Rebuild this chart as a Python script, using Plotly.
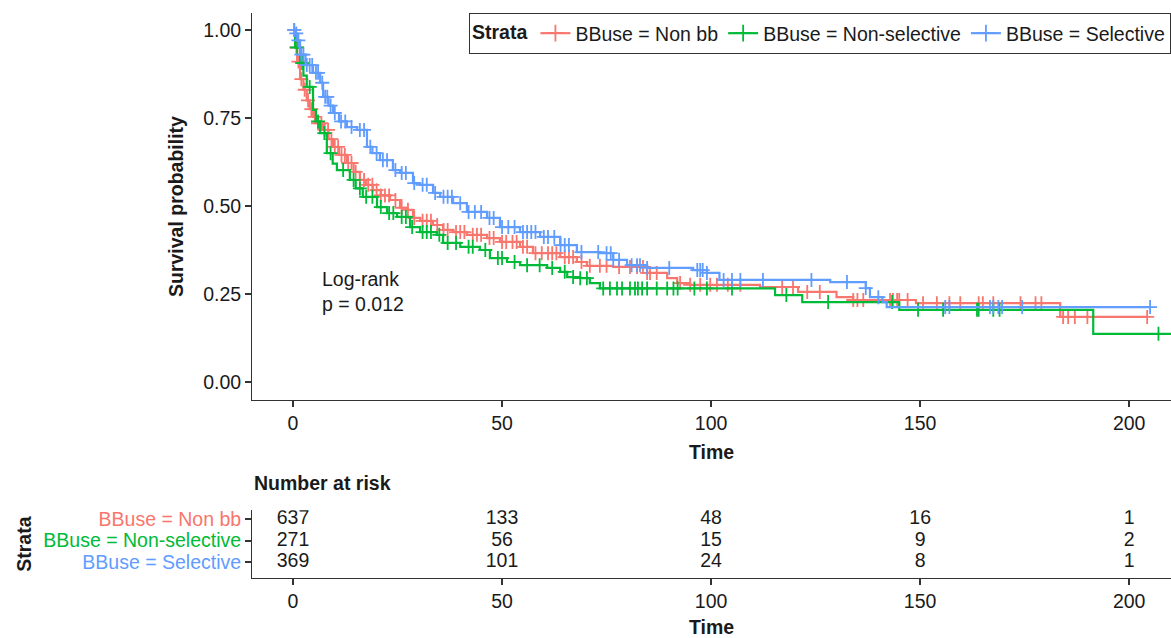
import plotly.graph_objects as go
import bisect

# ---------------- data ----------------
strata = ["BBuse = Non bb", "BBuse = Non-selective", "BBuse = Selective"]
colors = ["#F8766D", "#00BA38", "#619CFF"]

nonbb_times = [0, 0.5, 1, 1.7, 2.5, 3.3, 4, 4.8, 6, 7.2, 8.5, 9.6, 11, 12.9, 14.5, 16, 17.5, 19.1, 21,
               23.2, 25.6, 27.3, 28.7, 30.4, 33.5, 35.9, 38.3, 41.6, 46.4, 49.5, 54.3, 57.4, 63.9, 67.9,
               70.3, 76.6, 84.7, 89.5, 91.9, 95, 111.7, 120.8, 130, 134, 149, 183.5, 204.3]
nonbb_surv = [1.0, 0.95, 0.91, 0.86, 0.83, 0.80, 0.775, 0.753, 0.735, 0.716, 0.69, 0.668, 0.645, 0.622,
              0.597, 0.574, 0.56, 0.545, 0.53, 0.517, 0.495, 0.489, 0.466, 0.458, 0.446, 0.432, 0.426,
              0.418, 0.409, 0.398, 0.384, 0.366, 0.355, 0.341, 0.33, 0.327, 0.31, 0.295, 0.281, 0.276,
              0.27, 0.256, 0.241, 0.233, 0.224, 0.185, 0.185]
nonbb_cens = [0.3, 0.8, 1.3, 2, 2.8, 3.6, 4.4, 5.2, 6, 6.8, 7.6, 8.4, 9.2, 10, 10.8, 11.6, 12.4, 13.2, 14,
              15, 16, 17, 18, 19, 20, 21, 22, 23, 24.5, 26, 27.5, 29, 31, 32, 33, 34.5, 36, 37, 39, 40,
              41, 43, 44, 45, 47, 48, 50, 51, 52.5, 53.5, 55, 56, 58, 59.5, 61, 62, 63, 65, 66, 67, 69,
              71, 73.4, 75, 78, 80.6, 82.3, 83.7, 84.7, 85.4, 87, 92.6, 95, 97.4, 99.8, 101.4, 104, 107,
              117, 119.6, 123, 126, 134, 135, 136.4, 142.8, 143.5, 144.5, 145, 147, 150.7, 154, 157,
              159.6, 164, 165, 167.5, 174, 177.6, 179, 184.2, 185.4, 187, 190, 204.3]

nonsel_times = [0, 0.5, 1.7, 2.5, 3.3, 4.8, 5.5, 6.5, 8.1, 9.5, 10.5, 13.6, 15, 16.7, 20.1, 22.5, 24.9,
                28, 30.4, 34.4, 35.9, 40, 44.7, 47.1, 51.2, 54.3, 60.8, 63.9, 65.6, 68.7, 71, 73.4,
                115.3, 121.8, 145, 191.4, 212]
nonsel_surv = [1.0, 0.95, 0.906, 0.87, 0.838, 0.773, 0.74, 0.707, 0.65, 0.62, 0.602, 0.574, 0.55, 0.526,
               0.497, 0.48, 0.469, 0.44, 0.426, 0.418, 0.395, 0.384, 0.375, 0.352, 0.341, 0.332, 0.324,
               0.313, 0.298, 0.295, 0.281, 0.266, 0.247, 0.227, 0.205, 0.137, 0.137]
nonsel_cens = [1, 2.2, 4, 6, 7.5, 9, 12, 14.5, 16, 17.5, 19, 21, 23, 24, 26, 27, 28.5, 31, 32, 33, 35,
               37, 39, 42, 43, 46, 49, 50, 53, 56, 59, 62, 65, 67, 68.7, 70.3, 74.2, 75.8, 77.5, 78.7,
               80.6, 81.8, 82.5, 83.5, 84.7, 87, 89.5, 91, 92, 96, 99, 105, 118, 128, 143.3, 149.5,
               155.5, 163.6, 164, 167.5, 169, 207]

sel_times = [0, 0.5, 1, 1.7, 3, 4.8, 6.5, 7.2, 8.5, 9.6, 11, 12.9, 15.3, 17.7, 19, 20.8, 23.9, 25.6,
             28.7, 30.4, 33.5, 35.2, 38.3, 41.6, 46.4, 49.5, 54.3, 59.1, 63.9, 67.9, 73.4, 76.6, 79.9,
             84.7, 95.7, 99, 102, 128.5, 137, 138, 141, 142, 205]
sel_surv = [1.0, 0.99, 0.97, 0.93, 0.9, 0.878, 0.85, 0.81, 0.785, 0.764, 0.74, 0.724, 0.716, 0.668,
            0.65, 0.63, 0.602, 0.594, 0.565, 0.56, 0.537, 0.526, 0.508, 0.483, 0.466, 0.44, 0.426,
            0.412, 0.389, 0.369, 0.366, 0.347, 0.332, 0.324, 0.318, 0.31, 0.29, 0.284, 0.267, 0.241,
            0.227, 0.213, 0.213]
sel_cens = [0.3, 0.8, 1.3, 2, 2.5, 3.3, 4, 4.6, 5.5, 6, 7, 7.7, 8.2, 9, 10, 11.5, 12.5, 14, 16, 17,
            18.5, 20, 21.5, 22.5, 24.5, 26, 27, 29, 31, 32, 34, 36, 37, 38, 40, 42, 43.5, 45, 47, 48,
            50, 51.5, 53, 55, 56, 57, 58, 60, 61, 62.5, 64, 65, 66, 69, 73, 75, 76, 76.6, 78, 81,
            82.3, 83, 84.7, 90, 96.7, 97.4, 98, 99, 103, 105, 107, 112.4, 124, 132.5, 137, 140, 156,
            157, 166.7, 167.5, 168.7, 169.6, 174.4, 205]

risk_times = [0, 50, 100, 150, 200]
risk_nonbb = [637, 133, 48, 16, 1]
risk_nonsel = [271, 56, 15, 9, 2]
risk_sel = [369, 101, 24, 8, 1]

x_ticks = [0, 50, 100, 150, 200]
y_ticks = [0, 0.25, 0.5, 0.75, 1.0]
y_ticklabels = ["0.00", "0.25", "0.50", "0.75", "1.00"]

# ---------------- figure ----------------
FONT = "Liberation Sans, Arial, Helvetica, sans-serif"
FS = 19.5
TXT = "#1a1a1a"
AX = "#333333"

curves = [
    (nonbb_times, nonbb_surv, nonbb_cens),
    (nonsel_times, nonsel_surv, nonsel_cens),
    (sel_times, sel_surv, sel_cens),
]


def step_at(times, surv, t):
    i = bisect.bisect_right(times, t) - 1
    return surv[max(i, 0)]


fig = go.Figure()
for name, col, (tt, ss, cc) in zip(strata, colors, curves):
    fig.add_trace(go.Scatter(x=tt, y=ss, mode="lines", line=dict(color=col, width=2.2, shape="hv"),
                             showlegend=False, hoverinfo="skip", xaxis="x", yaxis="y"))
    fig.add_trace(go.Scatter(x=cc, y=[step_at(tt, ss, c) for c in cc], mode="markers",
                             marker=dict(symbol="cross-thin", size=10, line=dict(color=col, width=1.8)),
                             showlegend=False, hoverinfo="skip", xaxis="x", yaxis="y"))
    fig.add_trace(go.Scatter(x=[None], y=[None], mode="lines+markers", name=name,
                             line=dict(color=col, width=2.2),
                             marker=dict(symbol="cross-thin", size=12, line=dict(color=col, width=1.8)),
                             xaxis="x", yaxis="y"))

# risk table
row_pos = [2, 1, 0]
for risks, rp in zip([risk_nonbb, risk_nonsel, risk_sel], row_pos):
    fig.add_trace(go.Scatter(x=risk_times, y=[rp] * len(risk_times), mode="text",
                             text=[str(v) for v in risks], textposition="middle center",
                             textfont=dict(family=FONT, size=FS, color=TXT),
                             showlegend=False, hoverinfo="skip", xaxis="x2", yaxis="y2"))

axis_common = dict(showline=True, linecolor=AX, linewidth=1, ticks="outside", ticklen=6,
                   tickwidth=1.5, tickcolor=AX, showgrid=False, zeroline=False,
                   tickfont=dict(family=FONT, size=FS, color=TXT))

fig.update_layout(
    width=1171, height=638,
    margin=dict(l=252, r=0, t=13, b=60),
    paper_bgcolor="white", plot_bgcolor="white",
    font=dict(family=FONT, size=FS, color=TXT),
    xaxis=dict(domain=[0, 1], anchor="y", range=[-9.8, 210], tickvals=x_ticks,
               title=dict(text="<b>Time</b>", font=dict(size=FS, color=TXT), standoff=11),
               **axis_common),
    yaxis=dict(domain=[0.315, 1], anchor="x", range=[-0.051, 1.048], tickvals=y_ticks,
               ticktext=y_ticklabels,
               title=dict(text="<b>Survival probability</b>", font=dict(size=FS, color=TXT), standoff=14),
               **axis_common),
    xaxis2=dict(domain=[0, 1], anchor="y2", range=[-9.8, 210], tickvals=x_ticks,
                title=dict(text="<b>Time</b>", font=dict(size=FS, color=TXT), standoff=11),
                **axis_common),
    yaxis2=dict(domain=[0, 0.12], anchor="x2", range=[-0.74, 2.42], tickvals=row_pos,
                ticktext=[f'<span style="color:{c}">{s}</span>' for s, c in zip(strata, colors)],
                title=dict(text="<b>Strata</b>", font=dict(size=FS, color=TXT), standoff=6),
                **axis_common),
    legend=dict(orientation="h", x=1, xanchor="right", y=1, yanchor="top",
                bordercolor=AX, borderwidth=1, bgcolor="white",
                title=dict(text="<b>Strata</b>", side="left", font=dict(size=FS, color=TXT)),
                font=dict(family=FONT, size=FS, color=TXT), itemwidth=30, tracegroupgap=0),
    annotations=[
        dict(text="<b>Number at risk</b>", xref="paper", yref="paper", x=0, y=0.168,
             xanchor="left", yanchor="middle", showarrow=False, font=dict(size=FS, color=TXT)),
        dict(text="Log-rank<br>p = 0.012", xref="x", yref="y", x=6.5, y=0.2585, xanchor="left",
             yanchor="middle", align="left", showarrow=False, font=dict(size=FS, color=TXT)),
    ],
)

fig.write_html(
    "out.html",
    config={"displayModeBar": False},
    post_script="document.body.style.margin='0';document.body.style.overflow='hidden';",
)
